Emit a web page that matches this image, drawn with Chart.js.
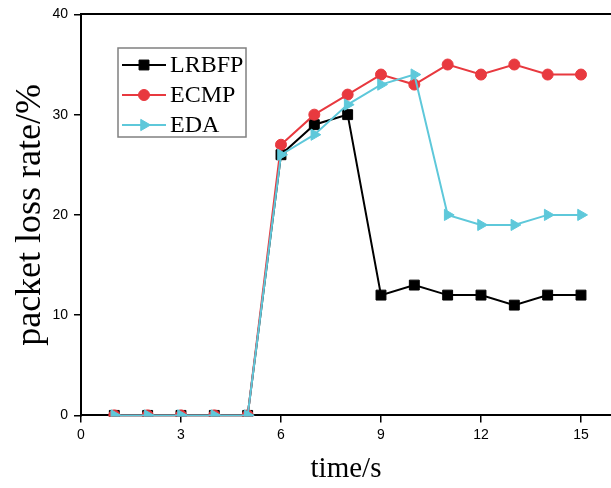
<!DOCTYPE html>
<html>
<head>
<meta charset="utf-8">
<script src="https://cdn.jsdelivr.net/npm/chart.js@4/dist/chart.umd.min.js"></script>
<style>
  html, body { margin: 0; padding: 0; background: #fff; overflow: hidden; }
  #wrap { width: 611px; height: 488px; }
  canvas { display: block; }
</style>
</head>
<body>
<div id="wrap"><canvas id="chart" width="611" height="488"></canvas></div>
<script>
const times = [1, 2, 3, 4, 5, 6, 7, 8, 9, 10, 11, 12, 13, 14, 15];
const lrbfp = [0, 0, 0, 0, 0, 26, 29, 30, 12, 13, 12, 12, 11, 12, 12];
const ecmp = [0, 0, 0, 0, 0, 27, 30, 32, 34, 33, 35, 34, 35, 34, 34];
const eda = [0, 0, 0, 0, 0, 26, 28, 31, 33, 34, 20, 19, 19, 20, 20];
const xTicks = [0, 3, 6, 9, 12, 15];
const yTicks = [0, 10, 20, 30, 40];

const black = "#000000";
const red = "#e8393f";
const cyan = "#5ec8da";

function pts(arr) {
  return times.map((t, i) => ({ x: t, y: arr[i] }));
}

// legend box inside the plot, like the original figure
const boxLegend = {
  id: "boxLegend",
  afterDatasetsDraw(chart) {
    const ctx = chart.ctx;
    const x0 = 118, y0 = 48, w = 128, h = 89;
    ctx.save();
    ctx.fillStyle = "#fff";
    ctx.fillRect(x0, y0, w, h);
    ctx.strokeStyle = "#808080";
    ctx.lineWidth = 1.5;
    ctx.strokeRect(x0, y0, w, h);
    const rows = [65, 95, 125];
    [0, 1, 2].forEach((di, i) => {
      const ds = chart.data.datasets[di];
      const y = rows[i];
      ctx.strokeStyle = ds.borderColor;
      ctx.fillStyle = ds.borderColor;
      ctx.lineWidth = 2;
      ctx.beginPath();
      ctx.moveTo(122, y);
      ctx.lineTo(166, y);
      ctx.stroke();
      ctx.lineWidth = 1;
      Chart.helpers.drawPoint(ctx, {
        pointStyle: ds.pointStyle,
        rotation: ds.pointRotation || 0,
        radius: ds.pointRadius,
        borderWidth: 1
      }, 144, y);
      ctx.fillStyle = "#000";
      ctx.font = "24px 'Liberation Serif'";
      ctx.textBaseline = "middle";
      ctx.fillText(ds.label, 170, y + 1);
    });
    ctx.restore();
  }
};

function series(label, arr, color, style, radius, rot, order) {
  return {
    label: label,
    data: pts(arr),
    borderColor: color,
    backgroundColor: color,
    pointBackgroundColor: color,
    pointBorderColor: color,
    pointStyle: style,
    pointRadius: radius,
    pointRotation: rot,
    pointBorderWidth: 1,
    borderWidth: 2,
    tension: 0,
    clip: 1,
    order: order
  };
}

new Chart(document.getElementById("chart"), {
  type: "line",
  data: {
    datasets: [
      series("LRBFP", lrbfp, black, "rect", 7, 0, 2),
      series("ECMP", ecmp, red, "circle", 5.5, 0, 1),
      series("EDA", eda, cyan, "triangle", 6.5, 90, 0)
    ]
  },
  options: {
    responsive: false,
    animation: false,
    layout: { autoPadding: false, padding: { left: 14, right: 0, top: 14, bottom: 0 } },
    plugins: { legend: { display: false }, tooltip: { enabled: false } },
    scales: {
      x: {
        type: "linear",
        min: 0,
        max: 15.9,
        afterBuildTicks: (axis) => { axis.ticks = xTicks.map(v => ({ value: v })); },
        afterFit: (axis) => { axis.paddingRight = 0; },
        ticks: { color: "#000", font: { family: "'Liberation Sans'", size: 14 }, padding: 4, maxRotation: 0 },
        grid: { display: true, drawOnChartArea: false, drawTicks: true, tickLength: 7, color: "#000", lineWidth: 1.5 },
        border: { display: true, color: "#000", width: 2 },
        title: { display: true, text: "time/s", color: "#000", font: { family: "'Liberation Serif'", size: 29, lineHeight: 1.2 }, padding: { top: 5, bottom: 1 } }
      },
      xTop: {
        type: "linear",
        position: "top",
        min: 0,
        max: 15.9,
        afterFit: (axis) => { axis.paddingRight = 0; },
        ticks: { display: false },
        grid: { display: false, drawTicks: false },
        border: { display: true, color: "#000", width: 2 }
      },
      y: {
        min: 0,
        max: 40,
        afterBuildTicks: (axis) => { axis.ticks = yTicks.map(v => ({ value: v })); },
        ticks: { color: "#000", font: { family: "'Liberation Sans'", size: 14 }, padding: 6 },
        grid: { display: true, drawOnChartArea: false, drawTicks: true, tickLength: 7, color: "#000", lineWidth: 1.5 },
        border: { display: true, color: "#000", width: 2 },
        title: { display: true, text: "packet loss rate/%", color: "#000", font: { family: "'Liberation Serif'", size: 36, lineHeight: 0.9 }, padding: { top: 0, bottom: 0 } }
      }
    }
  },
  plugins: [boxLegend]
});
</script>
</body>
</html>
